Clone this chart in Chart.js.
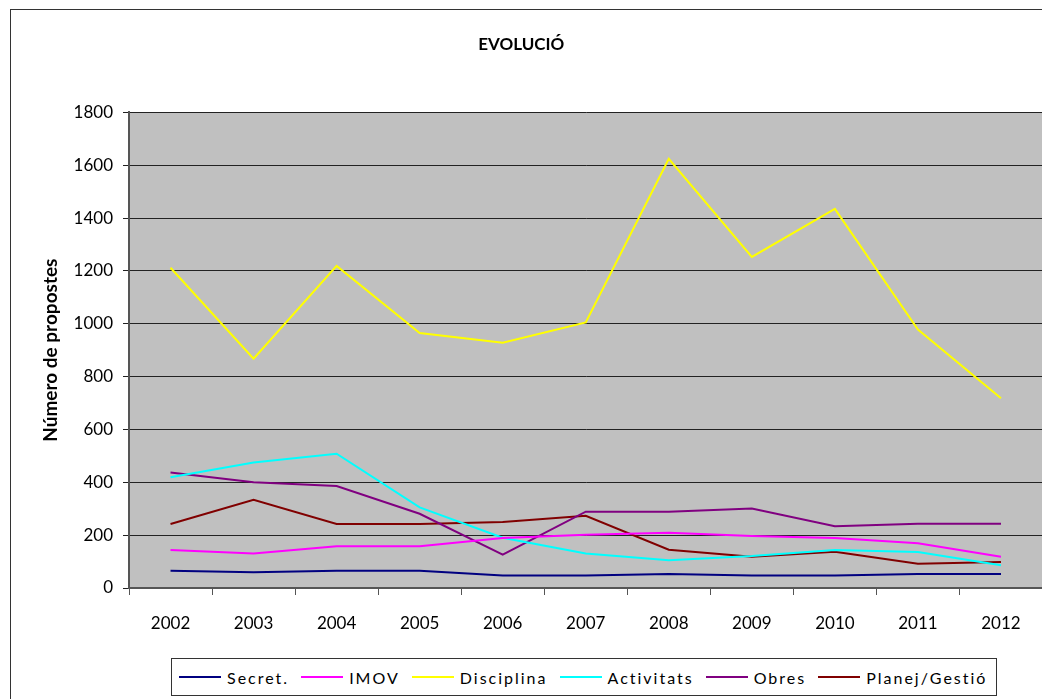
<!DOCTYPE html>
<html>
<head>
<meta charset="utf-8">
<script src="https://cdn.jsdelivr.net/npm/chart.js@4.4.0/dist/chart.umd.min.js"></script>
<style>
  html, body { margin: 0; padding: 0; background: #fff; overflow: hidden; width: 1042px; height: 699px; }
  #frame { position: absolute; left: 10px; top: 9px; width: 1100px; height: 760px; border: 1px solid #333; box-sizing: border-box; }
  #chart { position: absolute; left: 0; top: 0; }
  #legend {
    position: absolute; left: 171px; top: 658px; height: 38px; box-sizing: border-box;
    border: 1px solid #333; background: #fff; display: flex; align-items: center;
    padding: 0 9px 0 7px; font-family: Lato, "Liberation Sans", sans-serif; font-size: 16px; color: #000;
  }
  .item { display: flex; align-items: center; margin-right: 12px; }
  .item:last-child { margin-right: 0; }
  .swatch { width: 42px; height: 2px; margin-right: 6px; }
  .label { letter-spacing: 2px; white-space: nowrap; }
</style>
</head>
<body>
<div id="frame"></div>
<canvas id="chart" width="1067" height="699"></canvas>
<div id="legend"></div>
<script>
// Data
const years = ['2002', '2003', '2004', '2005', '2006', '2007', '2008', '2009', '2010', '2011', '2012'];
const seriesNames = ['Secret.', 'IMOV', 'Disciplina', 'Activitats', 'Obres', 'Planej/Gestió'];
const seriesColors = ['#000080', '#FF00FF', '#FFFF00', '#00FFFF', '#800080', '#800000'];

const secret = [65, 60, 65, 65, 47, 47, 53, 47, 47, 53, 53];
const imov = [144, 131, 158, 158, 189, 202, 209, 197, 189, 169, 118];
const disciplina = [1212, 868, 1219, 965, 928, 1005, 1624, 1253, 1435, 978, 718];
const activitats = [419, 475, 508, 305, 190, 131, 105, 121, 144, 136, 86];
const obres = [437, 400, 386, 281, 126, 289, 289, 301, 234, 243, 243];
const planej = [242, 334, 242, 242, 250, 273, 145, 118, 137, 92, 98];

const seriesValues = [secret, imov, disciplina, activitats, obres, planej];

const FONT = 'Lato, "Liberation Sans", sans-serif';

// Grey plot background
const plotBackground = {
    id: 'plotBackground',
    beforeDraw(chart) {
        const { ctx, chartArea } = chart;
        ctx.save();
        ctx.fillStyle = '#C0C0C0';
        ctx.fillRect(chartArea.left, chartArea.top, chartArea.right - chartArea.left, chartArea.bottom - chartArea.top);
        ctx.restore();
    }
};

const datasets = seriesNames.map((name, i) => ({
    label: name,
    data: seriesValues[i],
    borderColor: seriesColors[i],
    backgroundColor: seriesColors[i],
    borderWidth: 2,
    pointRadius: 0,
    tension: 0,
    fill: false
}));

const chart = new Chart(document.getElementById('chart'), {
    type: 'line',
    data: { labels: years, datasets: datasets },
    plugins: [plotBackground],
    options: {
        responsive: false,
        animation: false,
        devicePixelRatio: 1,
        layout: { padding: { left: 0, right: 24.5, top: 0, bottom: 66 } },
        plugins: {
            legend: { display: false },
            tooltip: { enabled: false },
            title: {
                display: true,
                text: 'EVOLUCIÓ',
                color: '#000',
                font: { family: FONT, size: 17, weight: 'bold', lineHeight: 1.2 },
                padding: { top: 34, bottom: 58 }
            }
        },
        scales: {
            x: {
                offset: true,
                grid: { display: true, drawOnChartArea: false, drawTicks: true, tickLength: 7, offset: true, color: '#555', lineWidth: 1 },
                border: { display: true, color: '#555', width: 2 },
                ticks: { color: '#000', font: { family: FONT, size: 17 }, padding: 18, maxRotation: 0 },
                afterFit(scale) { scale.height = 45; }
            },
            y: {
                min: 0,
                max: 1800,
                ticks: {
                    stepSize: 200,
                    color: '#000',
                    font: { family: FONT, size: 17 },
                    padding: 10,
                    callback: (v) => String(v)
                },
                grid: { color: '#222', lineWidth: 1, tickLength: 6 },
                border: { display: true, color: '#555', width: 2 },
                title: {
                    display: true,
                    text: 'Número de propostes',
                    color: '#000',
                    font: { family: FONT, size: 19, weight: 'bold', lineHeight: 1.2 },
                    padding: { top: 39, bottom: 0 }
                },
                afterFit(scale) { scale.width = 129; }
            }
        }
    }
});

// HTML legend built from the same series
const legendEl = document.getElementById('legend');
seriesNames.forEach((name, i) => {
    const item = document.createElement('div');
    item.className = 'item';
    const sw = document.createElement('span');
    sw.className = 'swatch';
    sw.style.background = seriesColors[i];
    const lb = document.createElement('span');
    lb.className = 'label';
    lb.textContent = name;
    item.appendChild(sw);
    item.appendChild(lb);
    legendEl.appendChild(item);
});
</script>
</body>
</html>
